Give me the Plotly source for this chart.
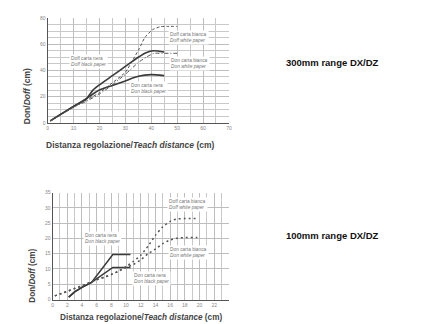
import plotly.graph_objects as go

W, H = 428, 324

# ---------------- data: 300mm range (top) ----------------
top_doff_black_x = [1, 5, 10, 15, 17.5, 20, 25, 30, 35, 38, 41, 45]
top_doff_black_y = [1.5, 6.5, 12.5, 18.5, 25, 29, 36, 43, 50, 53.5, 55, 54]
top_don_black_x = [1, 5, 10, 15, 17.5, 20, 25, 30, 35, 40, 45]
top_don_black_y = [1.5, 6.5, 12.5, 18.5, 22, 25, 28.5, 32, 35.5, 36.8, 36]
top_doff_white_x = [1, 5, 10, 15, 20, 24, 30, 33.5, 35.5, 37.5, 40.5, 43.5, 46, 50]
top_doff_white_y = [1.5, 6, 12, 17.5, 23, 29, 38.5, 50, 57, 65, 71, 73.3, 73.5, 73.5]
top_don_white_x = [1, 5, 10, 15, 20, 24, 30, 35, 38, 41, 45, 50]
top_don_white_y = [1.5, 6, 12, 16.5, 22, 27.5, 37, 46, 50, 53, 53, 53]

# ---------------- data: 100mm range (bottom) ----------------
bot_doff_black_x = [2.2, 3, 4, 5.3, 8.2, 10.6]
bot_doff_black_y = [0.8, 2.5, 4, 5.6, 14.7, 14.7]
bot_don_black_x = [2.2, 3, 4, 5.3, 8.2, 10.6]
bot_don_black_y = [0.8, 2.5, 4, 5.6, 10.5, 10.5]
bot_white_x = [0.3, 1, 2, 3, 4, 5, 6, 7, 8, 9, 10, 11, 12, 13, 14, 15, 16, 17, 18, 19.7]
bot_doff_white_y = [1.2, 1.8, 2.7, 3.6, 4.5, 5.5, 6.5, 7.3, 8.2, 9.3, 10.8, 12.5,
                    14.5, 17.5, 21, 23.8, 25.6, 26.4, 26.5, 26.5]
bot_don_white_y = [1.2, 1.8, 2.7, 3.6, 4.5, 5.5, 6.5, 7.3, 8.2, 9.3, 10.5, 11.5,
                   13, 15, 16.5, 18.3, 19.5, 20.1, 20.3, 20.3]

top_xticks = [0, 10, 20, 30, 40, 50, 60, 70]
top_yticks = [0, 20, 40, 60, 80]
bot_xticks = [0, 2, 4, 6, 8, 10, 12, 14, 16, 18, 20, 22]
bot_yticks = [0, 5, 10, 15, 20, 25, 30, 35]

x_title = "Distanza regolazione/<i>Teach distance</i> (cm)"
y_title = "Don/<i>Doff</i> (cm)"
titles_right = ["300mm range DX/DZ", "100mm range DX/DZ"]

top_labels = [
    (15.6, 46.5, "Doff carta nera", "Doff black paper"),
    (54.5, 65.0, "Doff carta bianca", "Doff white paper"),
    (54.8, 45.4, "Don carta bianca", "Don white paper"),
    (38.9, 26.3, "Don carta nera", "Don black paper"),
]
bot_labels = [
    (18.4, 31.0, "Doff carta bianca", "Doff white paper"),
    (6.8, 19.9, "Don carta nera", "Don black paper"),
    (18.5, 15.3, "Don carta bianca", "Don white paper"),
    (13.4, 6.9, "Don carta nera", "Don black paper"),
]

fig = go.Figure()

def line(x, y, xa, ya, dash, width, color, smooth=0.6):
    fig.add_trace(go.Scatter(x=x, y=y, mode="lines", xaxis=xa, yaxis=ya,
                             line=dict(color=color, width=width, dash=dash, shape="spline",
                                       smoothing=smooth),
                             showlegend=False, hoverinfo="skip"))

line(top_doff_black_x, top_doff_black_y, "x", "y", "solid", 1.6, "#3a3a3a")
line(top_don_black_x, top_don_black_y, "x", "y", "solid", 1.6, "#3a3a3a")
line(top_doff_white_x, top_doff_white_y, "x", "y", "3px,2px", 1.0, "#555", 0.4)
line(top_don_white_x, top_don_white_y, "x", "y", "4px,2px,1px,2px", 1.0, "#555", 0.4)

for xs, ys in [(bot_doff_black_x, bot_doff_black_y), (bot_don_black_x, bot_don_black_y)]:
    fig.add_trace(go.Scatter(x=xs, y=ys, mode="lines", xaxis="x2", yaxis="y2",
                             line=dict(color="#3a3a3a", width=1.5),
                             showlegend=False, hoverinfo="skip"))
for ys in [bot_doff_white_y, bot_don_white_y]:
    line(bot_white_x, ys, "x2", "y2", "2px,3px", 1.5, "#555", 0.5)

def px_x(p):
    return p / W

def px_y(p):
    return 1 - p / H

def axis(domain, rng, anchor, ticks, minor_dt):
    return dict(domain=domain, range=rng, anchor=anchor, tickvals=ticks,
                showgrid=True, gridcolor="#bdbdbd", gridwidth=0.8, zeroline=False,
                showline=True, linecolor="#555", linewidth=1,
                tickfont=dict(size=5, color="#888", family="Liberation Sans"),
                ticks="", fixedrange=True,
                minor=dict(dtick=minor_dt, tick0=0, showgrid=True, gridcolor="#c9c9c9",
                           gridwidth=0.7, ticks=""))

fig.update_layout(
    width=W, height=H, margin=dict(l=0, r=0, t=0, b=0),
    paper_bgcolor="white", plot_bgcolor="white",
    xaxis=axis([px_x(39), px_x(222)], [0, 70], "y", top_xticks, 5),
    yaxis=axis([px_y(114), px_y(7)], [0, 80], "x", top_yticks, 5),
    xaxis2=axis([px_x(44), px_x(222)], [0, 24], "y2", bot_xticks, 1),
    yaxis2=axis([px_y(294), px_y(185)], [0, 35], "x2", bot_yticks, 5),
)

ann = []
lab_font = dict(size=4.8, color="#777", family="Liberation Sans")
for xa, ya, labs in [("x", "y", top_labels), ("x2", "y2", bot_labels)]:
    for x, y, l1, l2 in labs:
        ann.append(dict(x=x, y=y, xref=xa, yref=ya, text=f"{l1}<br><i>{l2}</i>",
                        showarrow=False, font=lab_font, bgcolor="white",
                        borderpad=1, align="left", xanchor="center", yanchor="middle"))

tfont = dict(size=8.5, color="#444", family="Liberation Sans")
tfont2 = dict(size=8.2, color="#444", family="Liberation Sans")

def pann(x, y, text, font, angle=0):
    return dict(x=px_x(x), y=px_y(y), xref="paper", yref="paper", text=text,
                showarrow=False, font=font, textangle=angle,
                xanchor="center", yanchor="middle")

ann += [
    pann(123, 137, f"<b>{x_title}</b>", tfont),
    pann(19, 87, f"<b>{y_title}</b>", tfont, -90),
    pann(133, 312, f"<b>{x_title}</b>", tfont2),
    pann(23, 270, f"<b>{y_title}</b>", tfont2, -90),
    pann(327, 52, f"<b>{titles_right[0]}</b>", dict(size=9.5, color="#111", family="Liberation Sans")),
    pann(327, 229, f"<b>{titles_right[1]}</b>", dict(size=9.5, color="#111", family="Liberation Sans")),
]
fig.update_layout(annotations=ann)

fig.write_html("out.html")
